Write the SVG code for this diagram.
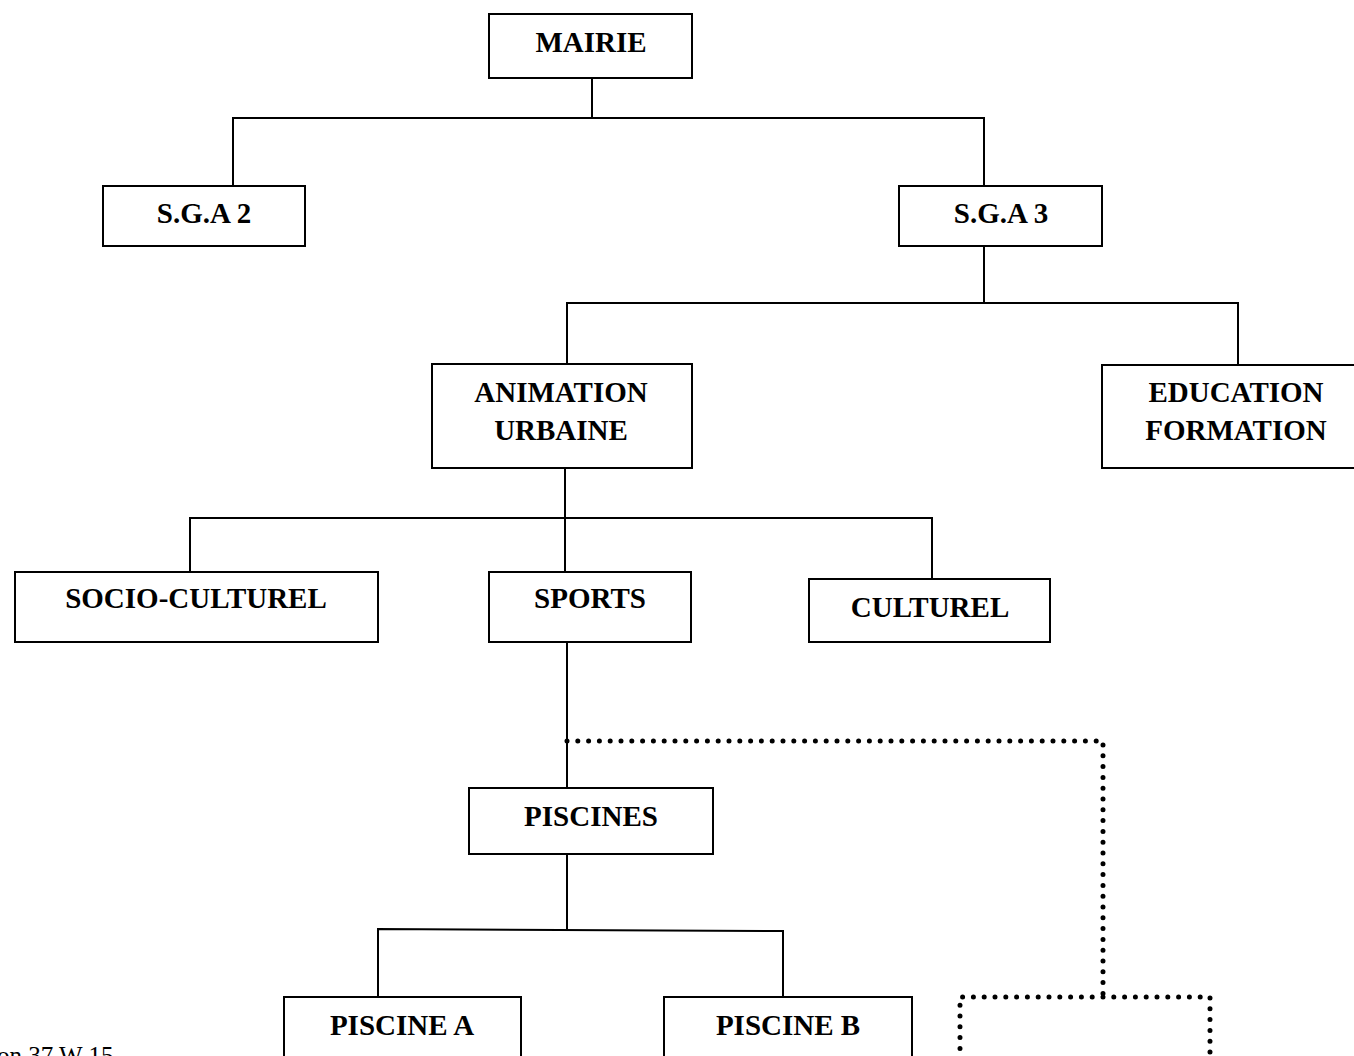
<svg xmlns="http://www.w3.org/2000/svg" width="1354" height="1056" viewBox="0 0 1354 1056">
<style>
.box{fill:#fff;stroke:#000;stroke-width:2}
.lbl{font-family:"Liberation Serif","Times New Roman",serif;font-weight:bold;font-size:29px;fill:#000;text-anchor:middle}
.ln{fill:none;stroke:#000;stroke-width:2}
.dot{fill:none;stroke:#000;stroke-width:5;stroke-linecap:round;stroke-dasharray:0 10.8}
.note{font-family:"Liberation Serif","Times New Roman",serif;font-size:25px;fill:#000}
</style>
<rect width="1354" height="1056" fill="#fff"/>
<g id="connectors">
<polyline class="ln" points="592,78 592,118"/>
<polyline class="ln" points="233,186 233,118 984,118 984,186"/>
<polyline class="ln" points="984,246 984,303"/>
<polyline class="ln" points="567,364 567,303 1238,303 1238,365"/>
<polyline class="ln" points="565,468 565,572"/>
<polyline class="ln" points="190,572 190,518 932,518 932,579"/>
<polyline class="ln" points="567,641 567,788"/>
<polyline class="ln" points="567,854 567,929"/>
<polyline class="ln" points="378,997 378,929 783,931 783,997"/>
<polyline class="dot" points="567,741 1103,741 1103,997"/>
</g>
<g id="mairie"><rect class="box" x="489" y="14" width="203" height="64"/><text class="lbl" x="591" y="52">MAIRIE</text></g>
<g id="sga2"><rect class="box" x="103" y="186" width="202" height="60"/><text class="lbl" x="204" y="223">S.G.A 2</text></g>
<g id="sga3"><rect class="box" x="899" y="186" width="203" height="60"/><text class="lbl" x="1001" y="223">S.G.A 3</text></g>
<g id="animation"><rect class="box" x="432" y="364" width="260" height="104"/><text class="lbl" x="561" y="402">ANIMATION</text><text class="lbl" x="561" y="440">URBAINE</text></g>
<g id="education"><rect class="box" x="1102" y="365" width="300" height="103"/><text class="lbl" x="1236" y="402">EDUCATION</text><text class="lbl" x="1236" y="440">FORMATION</text></g>
<g id="socio"><rect class="box" x="15" y="572" width="363" height="70"/><text class="lbl" x="196" y="608">SOCIO-CULTUREL</text></g>
<g id="sports"><rect class="box" x="489" y="572" width="202" height="70"/><text class="lbl" x="590" y="608">SPORTS</text></g>
<g id="culturel"><rect class="box" x="809" y="579" width="241" height="63"/><text class="lbl" x="930" y="617">CULTUREL</text></g>
<g id="piscines"><rect class="box" x="469" y="788" width="244" height="66"/><text class="lbl" x="591" y="826">PISCINES</text></g>
<g id="piscineA"><rect class="box" x="284" y="997" width="237" height="80"/><text class="lbl" x="402" y="1035">PISCINE A</text></g>
<g id="piscineB"><rect class="box" x="664" y="997" width="248" height="80"/><text class="lbl" x="788" y="1035">PISCINE B</text></g>
<g id="blank"><polyline class="dot" points="960,1070 960,997 1210,997 1210,1070"/></g>
<text class="note" x="-3" y="1064">on 37 W 15</text>
</svg>
